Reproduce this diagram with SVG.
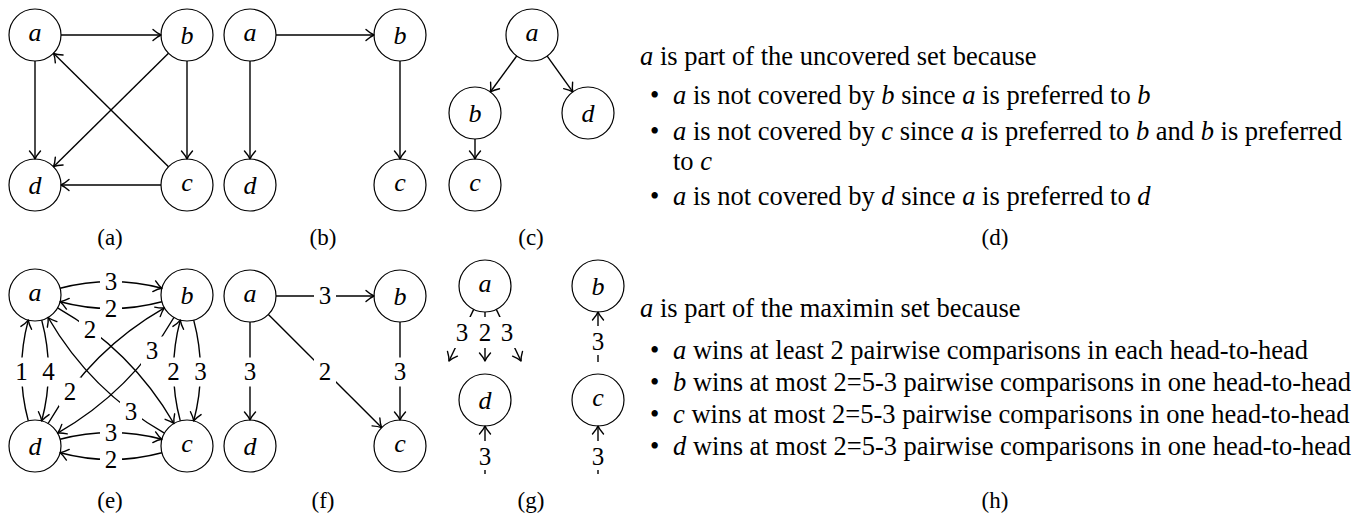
<svg xmlns="http://www.w3.org/2000/svg" width="1366" height="519" viewBox="0 0 1366 519">
<defs>
<marker id="arr" viewBox="-10 -7 12 14" refX="0" refY="0" markerWidth="12" markerHeight="14" markerUnits="userSpaceOnUse" orient="auto">
<path d="M-8,-5.5 Q-3.5,-1.5 0,0 Q-3.5,1.5 -8,5.5" fill="none" stroke="#000" stroke-width="1.4" stroke-linecap="round" stroke-linejoin="round"/>
</marker>
</defs>
<style>
.node circle{fill:#fff;stroke:#000;stroke-width:1.2}
.node text{font-family:'Liberation Serif','Times New Roman','DejaVu Serif',serif;font-style:italic;font-size:26px;text-anchor:middle}
.edge{fill:none;stroke:#000;stroke-width:1.4;marker-end:url(#arr)}
.lb rect{fill:#fff}
.lb text{font-family:'Liberation Serif','Times New Roman','DejaVu Serif',serif;font-size:25px;text-anchor:middle}
.para{font-family:'Liberation Serif','Times New Roman','DejaVu Serif',serif;font-size:26.5px}
.m{font-style:italic}
.cap{font-family:'Liberation Serif','Times New Roman','DejaVu Serif',serif;font-size:23px;text-anchor:middle}
</style>

<!-- Panel (a) -->
<g id="pa-a" class="node"><circle cx="35" cy="35" r="26"/><text x="35" y="41">a</text></g>
<g id="pa-b" class="node"><circle cx="187" cy="35" r="26"/><text x="187" y="44">b</text></g>
<g id="pa-c" class="node"><circle cx="187" cy="185" r="26"/><text x="187" y="191">c</text></g>
<g id="pa-d" class="node"><circle cx="35" cy="185" r="26"/><text x="35" y="194">d</text></g>
<g id="pa-edges">
<path class="edge" d="M61,35 L161,35"/>
<path class="edge" d="M35,61 L35,159"/>
<path class="edge" d="M187,61 L187,159"/>
<path class="edge" d="M161,185 L61,185"/>
<path class="edge" d="M168.5,53.3 L53.5,166.7"/>
<path class="edge" d="M168.5,166.7 L53.5,53.3"/>
</g>
<text class="cap" x="110" y="245">(a)</text>

<!-- Panel (b) -->
<g id="pb-a" class="node"><circle cx="250" cy="35" r="26"/><text x="250" y="41">a</text></g>
<g id="pb-b" class="node"><circle cx="400" cy="35" r="26"/><text x="400" y="44">b</text></g>
<g id="pb-c" class="node"><circle cx="400" cy="185" r="26"/><text x="400" y="191">c</text></g>
<g id="pb-d" class="node"><circle cx="250" cy="185" r="26"/><text x="250" y="194">d</text></g>
<g id="pb-edges">
<path class="edge" d="M276,35 L374,35"/>
<path class="edge" d="M250,61 L250,159"/>
<path class="edge" d="M400,61 L400,159"/>
</g>
<text class="cap" x="323" y="245">(b)</text>

<!-- Panel (c) -->
<g id="pc-a" class="node"><circle cx="532" cy="35" r="26"/><text x="532" y="41">a</text></g>
<g id="pc-b" class="node"><circle cx="475" cy="113" r="26"/><text x="475" y="122">b</text></g>
<g id="pc-d" class="node"><circle cx="588" cy="113" r="26"/><text x="588" y="122">d</text></g>
<g id="pc-c" class="node"><circle cx="475" cy="185" r="26"/><text x="475" y="191">c</text></g>
<g id="pc-edges">
<path class="edge" d="M516.7,56 L490.3,92"/>
<path class="edge" d="M547.2,56.1 L572.8,91.9"/>
<path class="edge" d="M475,139 L475,159"/>
</g>
<text class="cap" x="531" y="245">(c)</text>

<!-- Panel (d) -->
<g id="pd-text" class="para">
<text x="640" y="64.5"><tspan class="m">a</tspan> is part of the uncovered set because</text>
<text x="650" y="104">•</text>
<text x="673" y="104"><tspan class="m">a</tspan> is not covered by <tspan class="m">b</tspan> since <tspan class="m">a</tspan> is preferred to <tspan class="m">b</tspan></text>
<text x="650" y="140">•</text>
<text x="673" y="140"><tspan class="m">a</tspan> is not covered by <tspan class="m">c</tspan> since <tspan class="m">a</tspan> is preferred to <tspan class="m">b</tspan> and <tspan class="m">b</tspan> is preferred</text>
<text x="673" y="170">to <tspan class="m">c</tspan></text>
<text x="650" y="205">•</text>
<text x="673" y="205"><tspan class="m">a</tspan> is not covered by <tspan class="m">d</tspan> since <tspan class="m">a</tspan> is preferred to <tspan class="m">d</tspan></text>
</g>
<text class="cap" x="995" y="245">(d)</text>

<!-- Panel (e) -->
<g id="pe-a" class="node"><circle cx="35" cy="295" r="26"/><text x="35" y="301">a</text></g>
<g id="pe-b" class="node"><circle cx="187" cy="295" r="26"/><text x="187" y="304">b</text></g>
<g id="pe-c" class="node"><circle cx="187" cy="446" r="26"/><text x="187" y="452">c</text></g>
<g id="pe-d" class="node"><circle cx="35" cy="446" r="26"/><text x="35" y="455">d</text></g>
<g id="pe-edges">
<path class="edge" d="M60.1,288.3 Q111,274.7 161.9,288.3"/>
<path class="edge" d="M161.9,301.7 Q111,315.3 60.1,301.7"/>
<path class="edge" d="M60.1,439.3 Q111,425.7 161.9,439.3"/>
<path class="edge" d="M161.9,452.7 Q111,466.3 60.1,452.7"/>
<path class="edge" d="M41.7,320.1 Q55.2,370.5 41.7,420.9"/>
<path class="edge" d="M28.3,420.9 Q14.8,370.5 28.3,320.1"/>
<path class="edge" d="M193.7,320.1 Q207.2,370.5 193.7,420.9"/>
<path class="edge" d="M180.3,420.9 Q166.8,370.5 180.3,320.1"/>
<path class="edge" d="M57.6,307.9 Q131.3,350.1 173.9,423.5"/>
<path class="edge" d="M164.4,433.1 Q90.75,390.9 48.1,317.5"/>
<path class="edge" d="M48.1,423.5 Q90.75,350.1 164.4,307.9"/>
<path class="edge" d="M173.9,317.5 Q131.3,390.9 57.6,433.1"/>
<g class="lb">
<rect x="100" y="267" width="22" height="29"/><text x="111" y="289.5">3</text>
<rect x="100" y="294" width="22" height="29"/><text x="111" y="316.5">2</text>
<rect x="100" y="418" width="22" height="29"/><text x="111" y="440.5">3</text>
<rect x="100" y="445" width="22" height="29"/><text x="111" y="467.5">2</text>
<rect x="10.5" y="357.5" width="22" height="29"/><text x="21.5" y="380">1</text>
<rect x="37.5" y="357.5" width="22" height="29"/><text x="48.5" y="380">4</text>
<rect x="162.5" y="357.5" width="22" height="29"/><text x="173.5" y="380">2</text>
<rect x="189.5" y="357.5" width="22" height="29"/><text x="200.5" y="380">3</text>
<rect x="79" y="315.5" width="22" height="29"/><text x="90" y="338">2</text>
<rect x="120" y="397.5" width="22" height="29"/><text x="131" y="420">3</text>
<rect x="59" y="377.5" width="22" height="29"/><text x="70" y="400">2</text>
<rect x="141" y="336.5" width="22" height="29"/><text x="152" y="359">3</text>
</g>
</g>
<text class="cap" x="110" y="508">(e)</text>

<!-- Panel (f) -->
<g id="pf-a" class="node"><circle cx="250" cy="296" r="26"/><text x="250" y="302">a</text></g>
<g id="pf-b" class="node"><circle cx="400" cy="296" r="26"/><text x="400" y="305">b</text></g>
<g id="pf-c" class="node"><circle cx="400" cy="446" r="26"/><text x="400" y="452">c</text></g>
<g id="pf-d" class="node"><circle cx="250" cy="446" r="26"/><text x="250" y="455">d</text></g>
<g id="pf-edges">
<path class="edge" d="M276,296 L374,296"/>
<path class="edge" d="M250,322 L250,420"/>
<path class="edge" d="M400,322 L400,420"/>
<path class="edge" d="M268.4,314.4 L381.6,427.6"/>
<g class="lb">
<rect x="314" y="281.5" width="22" height="29"/><text x="325" y="304">3</text>
<rect x="239" y="357.5" width="22" height="29"/><text x="250" y="380">3</text>
<rect x="389" y="357.5" width="22" height="29"/><text x="400" y="380">3</text>
<rect x="314" y="357.5" width="22" height="29"/><text x="325" y="380">2</text>
</g>
</g>
<text class="cap" x="323" y="508">(f)</text>

<!-- Panel (g) -->
<g id="pg-a" class="node"><circle cx="485" cy="286" r="26"/><text x="485" y="292">a</text></g>
<g id="pg-b" class="node"><circle cx="598" cy="286" r="26"/><text x="598" y="295">b</text></g>
<g id="pg-d" class="node"><circle cx="485" cy="400" r="26"/><text x="485" y="409">d</text></g>
<g id="pg-c" class="node"><circle cx="598" cy="400" r="26"/><text x="598" y="406">c</text></g>
<g id="pg-edges">
<path class="edge" d="M473.7,309.4 L449,361"/>
<path class="edge" d="M485,312 L485,361"/>
<path class="edge" d="M496.3,309.4 L521,361"/>
<path class="edge" d="M598,362 L598,312"/>
<path class="edge" d="M485,474 L485,426"/>
<path class="edge" d="M598,474 L598,426"/>
<g class="lb">
<rect x="451" y="317" width="22" height="31"/><text x="462" y="341">3</text>
<rect x="474" y="317" width="22" height="31"/><text x="485" y="341">2</text>
<rect x="496" y="317" width="22" height="31"/><text x="507" y="341">3</text>
<rect x="587" y="326" width="22" height="29"/><text x="598" y="350">3</text>
<rect x="474" y="441" width="22" height="29"/><text x="485" y="465">3</text>
<rect x="587" y="441" width="22" height="29"/><text x="598" y="465">3</text>
</g>
</g>
<text class="cap" x="531" y="508">(g)</text>

<!-- Panel (h) -->
<g id="ph-text" class="para">
<text x="640" y="316.5"><tspan class="m">a</tspan> is part of the maximin set because</text>
<text x="650" y="358.5">•</text>
<text x="673" y="358.5"><tspan class="m">a</tspan> wins at least 2 pairwise comparisons in each head-to-head</text>
<text x="650" y="391">•</text>
<text x="673" y="391"><tspan class="m">b</tspan> wins at most 2=5-3 pairwise comparisons in one head-to-head</text>
<text x="650" y="423">•</text>
<text x="673" y="423"><tspan class="m">c</tspan> wins at most 2=5-3 pairwise comparisons in one head-to-head</text>
<text x="650" y="455">•</text>
<text x="673" y="455"><tspan class="m">d</tspan> wins at most 2=5-3 pairwise comparisons in one head-to-head</text>
</g>
<text class="cap" x="995" y="508">(h)</text>
</svg>
